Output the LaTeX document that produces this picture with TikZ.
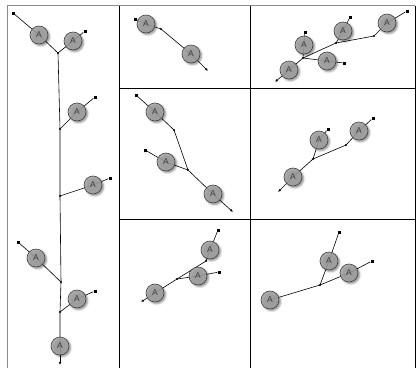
\documentclass[tikz,border=0pt]{standalone}
\usepackage{fontspec}
\setsansfont{Liberation Sans}
\usetikzlibrary{shadows.blur,arrows.meta,backgrounds}
\tikzset{
 amm/.style={circle,draw=black!75,line width=0.6bp,fill=black!36,fill opacity=0.85,text opacity=1,
   minimum size=18bp,inner sep=0pt,font=\sffamily\fontsize{8.5}{8.5}\selectfont,text=black!75,
   blur shadow={shadow xshift=1.6bp,shadow yshift=-1.6bp,shadow blur radius=2bp,shadow opacity=55}},
 sq/.style={rectangle,fill=black,minimum size=3bp,inner sep=0pt},
 jn/.style={circle,fill=black,minimum size=2.4bp,inner sep=0pt},
 wire/.style={line width=0.6bp,black},
 tip/.style={-{Latex[length=3bp,width=2.6bp]}},
 gframe/.style={line width=0.9bp,black!45},
 bframe/.style={line width=0.9bp,black}
}
\begin{document}
\begin{tikzpicture}[x=1bp,y=-1bp]
\useasboundingbox (0,0) rectangle (416,368);
% frame
\draw[gframe] (7,368) -- (7,5.5) -- (415,5.5);
\draw[bframe] (119.5,5.5) -- (119.5,368);
\draw[bframe] (250,5.5) -- (250,368);
\draw[bframe] (415,5.5) -- (415,368);
\draw[bframe] (119.5,88.5) -- (415,88.5);
\draw[bframe] (119.5,219.5) -- (415,219.5);
\draw[line width=1.8bp] (277,88.5) -- (308,88.5);
% cell 1
\node[sq] (s11) at (13,13) {};
\node[amm] (a11) at (39,35) {A};
\node[jn] (j10) at (58,53) {};
\node[amm] (a12) at (73,41) {A};
\node[sq] (s12) at (85,31) {};
\node[jn] (j11) at (60,129) {};
\node[amm] (a13) at (77,112) {A};
\node[sq] (s13) at (95,97) {};
\node[jn] (j12) at (60,196) {};
\node[amm] (a14) at (93,185) {A};
\node[sq] (s14) at (110,178) {};
\node[jn] (j13) at (61,282) {};
\node[amm] (a15) at (36,258) {A};
\node[sq] (s15) at (18,242) {};
\node[jn] (j14) at (60,312) {};
\node[amm] (a16) at (77,299) {A};
\node[sq] (s16) at (95,291) {};
\node[amm] (a17) at (60,346) {A};
\coordinate (e1) at (60,365);
% cell 2
\node[sq] (s21) at (135,19) {};
\node[amm] (a21) at (146,24) {A};
\node[jn] (j21) at (161,29) {};
\node[amm] (a22) at (191,54) {A};
\coordinate (e2) at (208,71);
% cell 3
\coordinate (e3) at (275,82);
\node[amm] (a31) at (289,70) {A};
\node[jn] (j31) at (303,58) {};
\node[amm] (a32) at (304,45) {A};
\node[sq] (s32) at (305,32) {};
\node[amm] (a33) at (327,61) {A};
\node[sq] (s33) at (344,63) {};
\node[jn] (j32) at (336,43) {};
\node[amm] (a34) at (343,31) {A};
\node[sq] (s34) at (350,17) {};
\node[jn] (j33) at (374,36) {};
\node[amm] (a35) at (387,23) {A};
\node[sq] (s35) at (407,11) {};
% cell 4
\node[sq] (s41) at (136,95) {};
\node[amm] (a41) at (155,112) {A};
\node[jn] (j41) at (174,130) {};
\node[sq] (s42) at (145,150) {};
\node[amm] (a42) at (166,162) {A};
\node[jn] (j42) at (188,170) {};
\node[amm] (a43) at (213,194) {A};
\coordinate (e4) at (233,212);
% cell 5
\coordinate (e5) at (278,192);
\node[amm] (a51) at (293,177) {A};
\node[jn] (j51) at (313,159) {};
\node[amm] (a52) at (319,140) {A};
\node[sq] (s52) at (328,129) {};
\node[jn] (j52) at (346,145) {};
\node[amm] (a53) at (359,131) {A};
\node[sq] (s53) at (373,118) {};
% cell 6
\coordinate (e6) at (141,302);
\node[amm] (a61) at (155,293) {A};
\node[jn] (j61) at (177,279) {};
\node[amm] (a62) at (198,276) {A};
\node[sq] (s62) at (219,272) {};
\node[jn] (j62) at (206,261) {};
\node[amm] (a63) at (210,250) {A};
\node[sq] (s63) at (218,230) {};
% cell 7
\node[amm] (a71) at (270,300) {A};
\node[jn] (j71) at (320,285) {};
\node[amm] (a72) at (329,261) {A};
\node[sq] (s72) at (339,232) {};
\node[amm] (a73) at (349,273) {A};
\node[sq] (s73) at (372,261) {};
\begin{pgfonlayer}{background}
% cell 1
\draw[wire] (s11) -- (a11.center) -- (j10.center);
\draw[wire] (j10.center) -- (a12.center) -- (s12);
\draw[wire] (j10.center) -- (j11.center) -- (j12.center) -- (j13.center) -- (j14.center) -- (a17.center);
\draw[wire,tip] (a17.center) -- (e1);
\draw[wire] (j11.center) -- (a13.center) -- (s13);
\draw[wire] (j12.center) -- (a14.center) -- (s14);
\draw[wire] (j13.center) -- (a15.center) -- (s15);
\draw[wire] (j14.center) -- (a16.center) -- (s16);
% cell 2
\draw[wire,tip] (s21) -- (a21.center) -- (j21.center) -- (a22.center) -- (e2);
% cell 3
\draw[wire,tip] (j31.center) -- (a31.center) -- (e3);
\draw[wire] (j31.center) -- (a32.center) -- (s32);
\draw[wire] (j31.center) -- (a33.center) -- (s33);
\draw[wire] (j31.center) -- (j32.center) -- (j33.center) -- (a35.center) -- (s35);
\draw[wire] (j32.center) -- (a34.center) -- (s34);
% cell 4
\draw[wire] (s41) -- (a41.center) -- (j41.center) -- (j42.center);
\draw[wire] (s42) -- (a42.center) -- (j42.center);
\draw[wire,tip] (j42.center) -- (a43.center) -- (e4);
% cell 5
\draw[wire,tip] (j51.center) -- (a51.center) -- (e5);
\draw[wire] (j51.center) -- (a52.center) -- (s52);
\draw[wire] (j51.center) -- (j52.center) -- (a53.center) -- (s53);
% cell 6
\draw[wire,tip] (j61.center) -- (a61.center) -- (e6);
\draw[wire] (j61.center) -- (a62.center) -- (s62);
\draw[wire] (j61.center) -- (j62.center) -- (a63.center) -- (s63);
% cell 7
\draw[wire] (a71.center) -- (j71.center) -- (a72.center) -- (s72);
\draw[wire] (j71.center) -- (a73.center) -- (s73);
\end{pgfonlayer}
\end{tikzpicture}
\end{document}
